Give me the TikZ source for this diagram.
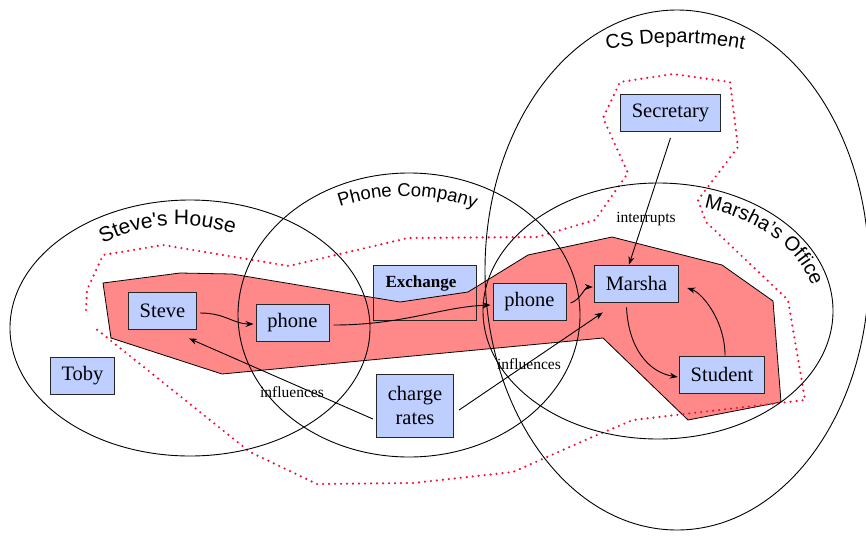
\documentclass[tikz,border=0pt]{standalone}
\usepackage{fontspec}
\usetikzlibrary{arrows.meta,decorations.text}
\newfontfamily\boxfont{Liberation Serif}
\newfontfamily\regionfont{Liberation Sans}
\definecolor{boxblue}{RGB}{190,206,255}
\definecolor{salmonred}{RGB}{255,136,136}
\definecolor{dotred}{RGB}{250,10,50}

\begin{document}
\begin{tikzpicture}[x=1pt,y=1pt,
  agent/.style={draw=black!85,line width=0.9pt,fill=boxblue,inner xsep=11.5pt,
    minimum height=37pt,font=\boxfont\fontsize{20.5}{24}\selectfont},
  region/.style={draw,line width=0.9pt},
  arr/.style={-{Stealth[length=8pt,width=6pt]},line width=0.9pt},
  lbl/.style={font=\boxfont\fontsize{15.5}{18}\selectfont},
  regionlbl/.style 2 args={decorate,decoration={text along path,
    text={|\regionfont\fontsize{#1}{24}\selectfont|#2}}}
]
\useasboundingbox (0,0) rectangle (866,-536);

% exchange box sits under the shaded area
\node[agent,draw=none,minimum width=102pt,minimum height=54pt] (exch) at (425,-293) {};

% shaded area of the phone call
\filldraw[fill=salmonred,draw=black,line width=0.8pt]
  (103,-283) -- (180,-273) -- (232,-274) -- (400,-302) -- (468,-292)
  -- (528,-255) -- (612,-237) -- (722,-265) -- (773,-301) -- (781,-402)
  -- (688,-420) -- (603,-338) -- (222,-374) -- (111,-338) -- cycle;

% dotted boundary
\draw[dotred,line width=2.4pt,line cap=round,dash pattern=on 0pt off 6pt]
  (86,-310) -- (87,-290) -- (103,-255) -- (163,-245) -- (289,-266)
  -- (408,-238) -- (537,-237) -- (595,-220) -- (628,-173) -- (603,-118)
  -- (620,-82) -- (673,-74) -- (730,-82) -- (738,-147) -- (698,-200)
  -- (706,-222) -- (788,-300) -- (805,-400) -- (633,-420) -- (590,-438)
  -- (513,-472) -- (413,-483) -- (317,-484) -- (250,-452) -- (95,-328);

% regions
\draw[region] (190,-328) ellipse [x radius=180, y radius=128];
\draw[region] (409,-315) ellipse [x radius=171, y radius=142];
\draw[region] (677,-270) ellipse [x radius=192, y radius=260];
\draw[region] (658,-311) ellipse [x radius=175, y radius=128];

\path[regionlbl={21}{Steve's House}] (180,-395) ++(117:170) arc[start angle=117, end angle=40, radius=170];
\path[regionlbl={18.5}{Phone Company}] (405,-396) ++(109:200) arc[start angle=109, end angle=55, radius=200];
\path[regionlbl={20}{CS Department}] (676,-393) ++(101.4:350) arc[start angle=101.4, end angle=72, radius=350];
\path[regionlbl={20}{Marsha’s Office}] (658,-311) ++(73:158 and 108) arc[start angle=73, end angle=0, x radius=158, y radius=108];

\draw[black!85,line width=0.9pt] (exch.south west) rectangle (exch.north east);
\node[font=\boxfont\bfseries\fontsize{17}{20}\selectfont] (exchtxt) at (421,-283) {Exchange};

% agents
\node[agent] (stv) at (162.5,-310.5) {Steve};
\node[agent] (phn1) at (292.5,-322.5) {phone};
\node[agent] (phn2) at (529.5,-301.5) {phone};
\node[agent] (mrsh) at (636.5,-283.5) {Marsha};
\node[agent] (stud) at (722,-374.5) {Student};
\node[agent] (secr) at (670.5,-113) {Secretary};
\node[agent] (toby) at (82.5,-375.5) {Toby};
\node[agent,minimum height=63pt,align=center,font=\boxfont\fontsize{20.5}{24}\selectfont] (chrg) at (415,-405.5) {charge\\rates};

% connectors
\draw[arr] ([shift={(3,-2.5)}]stv.east) .. controls +(25,0) and +(-20,0) .. ([shift={(-2,-1.5)}]phn1.west);
\draw[arr] ([shift={(4,-2.5)}]phn1.east) .. controls +(70,0) and +(-50,-2) .. ([shift={(-2,-3.5)}]phn2.west);
\draw[arr] ([shift={(4,-1.5)}]phn2.east) .. controls +(10,3) and +(-8,0) .. ([shift={(-1,-3.5)}]mrsh.west);
\draw[arr] ([shift={(0,-6)}]secr.south) -- ([shift={(-7.5,0)}]mrsh.north);
\draw[arr] ([shift={(-10,-5)}]mrsh.south) .. controls +(2,-40) and +(-30,5) .. ([shift={(-1,-2.5)}]stud.west);
\draw[arr] ([shift={(3,0)}]stud.north) .. controls +(0,35) and +(15,-5) .. ([shift={(8,-4.5)}]mrsh.east);
\draw[arr] ([shift={(-3,-13.5)}]chrg.west) -- ([shift={(26.5,-9)}]stv.south);
\draw[arr] ([shift={(5,-4.5)}]chrg.east) -- ([shift={(9,-10)}]mrsh.south west);

\node[lbl] (intr) at (646,-219) {interrupts};
\node[lbl] (infl1) at (292,-392) {influences};
\node[lbl] (infl2) at (529,-364) {influences};
\end{tikzpicture}
\end{document}
